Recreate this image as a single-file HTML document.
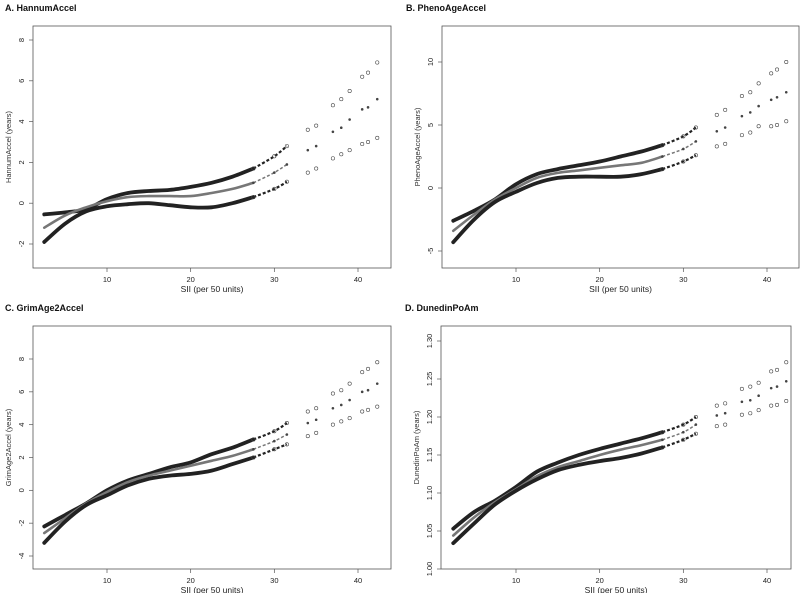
<!DOCTYPE html>
<html><head><meta charset="utf-8"><style>
html,body{margin:0;padding:0;background:#fff;}
svg{display:block;font-family:"Liberation Sans",Arial,sans-serif;}
</style></head><body>
<svg id="fig" width="800" height="593" viewBox="0 0 800 593"></svg>
<script>
const xs = [2.5,5,7.5,10,12.5,15,17.5,20,22.5,25,27.5,30,31.5,34,35,37,38,39,40.5,41.2,42.3];
const xTicks = [10,20,30,40];
const aUpper = [-0.55,-0.45,-0.3,0.2,0.5,0.6,0.65,0.8,1.0,1.3,1.7,2.3,2.8,3.6,3.8,4.8,5.1,5.5,6.2,6.4,6.9];
const aMean  = [-1.2,-0.6,-0.2,0.1,0.3,0.35,0.35,0.35,0.5,0.7,1.0,1.5,1.9,2.6,2.8,3.5,3.7,4.1,4.6,4.7,5.1];
const aLower = [-1.9,-1.0,-0.4,-0.15,-0.05,0.0,-0.1,-0.2,-0.2,0,0.3,0.7,1.05,1.5,1.7,2.2,2.4,2.6,2.9,3.0,3.2];
const aTicks = [-2,0,2,4,6,8];
const bUpper = [-2.6,-1.8,-0.9,0.3,1.1,1.5,1.8,2.1,2.5,2.9,3.4,4.1,4.8,5.8,6.2,7.3,7.6,8.3,9.1,9.4,10.0];
const bMean  = [-3.4,-2.1,-0.9,0,0.8,1.2,1.4,1.6,1.8,2.0,2.5,3.1,3.7,4.5,4.8,5.7,6.0,6.5,7.0,7.2,7.6];
const bLower = [-4.3,-2.5,-1.1,-0.3,0.4,0.8,0.9,0.9,0.9,1.1,1.5,2.1,2.6,3.3,3.5,4.2,4.4,4.9,4.9,5.0,5.3];
const bTicks = [-5,0,5,10];
const cUpper = [-2.2,-1.5,-0.8,0,0.6,1.0,1.4,1.7,2.2,2.6,3.1,3.6,4.1,4.8,5.0,5.9,6.1,6.5,7.2,7.4,7.8];
const cMean  = [-2.6,-1.7,-0.8,-0.1,0.5,0.9,1.2,1.5,1.8,2.1,2.5,3.0,3.4,4.1,4.3,5.0,5.2,5.5,6.0,6.1,6.5];
const cLower = [-3.2,-1.9,-0.9,-0.3,0.3,0.7,0.9,1.0,1.2,1.6,2.0,2.5,2.8,3.3,3.5,4.0,4.2,4.4,4.8,4.9,5.1];
const cTicks = [-4,-2,0,2,4,6,8];
const dUpper = [1.053,1.075,1.090,1.108,1.128,1.140,1.150,1.158,1.165,1.172,1.180,1.190,1.200,1.215,1.218,1.237,1.240,1.245,1.260,1.262,1.272];
const dMean  = [1.044,1.068,1.088,1.105,1.122,1.134,1.142,1.150,1.157,1.163,1.170,1.180,1.190,1.202,1.205,1.220,1.222,1.228,1.238,1.240,1.247];
const dLower = [1.034,1.060,1.085,1.103,1.118,1.130,1.137,1.142,1.146,1.152,1.160,1.170,1.178,1.188,1.190,1.203,1.205,1.209,1.215,1.216,1.221];
const dTicks = [1.00,1.05,1.10,1.15,1.20,1.25,1.30];
const dLabels = ["1.00","1.05","1.10","1.15","1.20","1.25","1.30"];

const NS="http://www.w3.org/2000/svg";
const svg=document.getElementById('fig');
function mk(tag,attrs,parent){const e=document.createElementNS(NS,tag);for(const k in attrs)e.setAttribute(k,attrs[k]);(parent||svg).appendChild(e);return e;}

const panels=[
 {key:'a',title:'A. HannumAccel',ylab:'HannumAccel (years)',box:[33,26,391,268],x10:107,x40:358,yv1:8,yp1:40,yv2:-2,yp2:244,ticks:aTicks,labels:null,series:[aUpper,aMean,aLower]},
 {key:'b',title:'B. PhenoAgeAccel',ylab:'PhenoAgeAccel (years)',box:[442,26,799,268],x10:516,x40:767,yv1:10,yp1:62,yv2:-5,yp2:251,ticks:bTicks,labels:null,series:[bUpper,bMean,bLower]},
 {key:'c',title:'C. GrimAge2Accel',ylab:'GrimAge2Accel (years)',box:[33,326,391,569],x10:107,x40:358,yv1:8,yp1:359,yv2:-4,yp2:556,ticks:cTicks,labels:null,series:[cUpper,cMean,cLower]},
 {key:'d',title:'D. DunedinPoAm',ylab:'DunedinPoAm (years)',box:[441,326,791,569],x10:516,x40:767,yv1:1.30,yp1:341,yv2:1.00,yp2:569,ticks:dTicks,labels:dLabels,series:[dUpper,dMean,dLower]}
];

function smooth(pts){
  let d='M'+pts[0][0]+','+pts[0][1];
  for(let i=0;i<pts.length-1;i++){
    const p0=pts[Math.max(0,i-1)],p1=pts[i],p2=pts[i+1],p3=pts[Math.min(pts.length-1,i+2)];
    const c1=[p1[0]+(p2[0]-p0[0])/6,p1[1]+(p2[1]-p0[1])/6];
    const c2=[p2[0]-(p3[0]-p1[0])/6,p2[1]-(p3[1]-p1[1])/6];
    d+=' C'+c1[0].toFixed(1)+','+c1[1].toFixed(1)+' '+c2[0].toFixed(1)+','+c2[1].toFixed(1)+' '+p2[0].toFixed(1)+','+p2[1].toFixed(1);
  }
  return d;
}

panels.forEach(p=>{
  const g=mk('g',{});
  
  
  const sx=v=>p.x10+(v-10)*(p.x40-p.x10)/30;
  const sy=v=>p.yp1+(v-p.yv1)*(p.yp2-p.yp1)/(p.yv2-p.yv1);
  const [l,t,r,b]=p.box;
  const title=mk('text',{x:l-28,y:p.box[1]-15,'font-size':'9','font-weight':'bold',fill:'#111'},g);
  if(p.key==='b'||p.key==='d'){title.setAttribute('x',l-36);}
  title.textContent=p.title;
  
  
  const rect=mk('rect',{x:l,y:t,width:r-l,height:b-t,fill:'none',stroke:'#555','stroke-width':'0.8'},g);
  
  
  xTicks.forEach(v=>{
    const x=sx(v);
    const tk=mk('line',{x1:x,x2:x,y1:b,y2:b+4,stroke:'#555','stroke-width':'0.7'},g);
    
    
    const tl=mk('text',{x:x,y:b+14,'font-size':'7.5','text-anchor':'middle',fill:'#222'},g);
    tl.textContent=String(v);
    
    
  });
  p.ticks.forEach((v,i)=>{
    const y=sy(v);
    const tk=mk('line',{x1:l-4,x2:l,y1:y,y2:y,stroke:'#555','stroke-width':'0.7'},g);
    
    
    const tl=mk('text',{x:0,y:0,'font-size':'7.5','text-anchor':'middle',fill:'#222',transform:'translate('+(l-9)+','+y+') rotate(-90)'},g);
    tl.textContent=p.labels?p.labels[i]:String(v);
    
    
  });
  const xl=mk('text',{x:(l+r)/2,y:b+24,'font-size':'8.5','text-anchor':'middle',fill:'#222'},g);
  xl.textContent='SII (per 50 units)';
  
  
  const yl=mk('text',{x:0,y:0,'font-size':'7.5','text-anchor':'middle',fill:'#333',transform:'translate('+(l-22)+','+((t+b)/2)+') rotate(-90)'},g);
  yl.textContent=p.ylab;
  
  
  const names=['upper-ci','estimate','lower-ci'];
  p.series.forEach((s,si)=>{
    const col=si===1?'#777':'#222';
    const w=si===1?2.6:3.8;
    const cont=[];
    for(let i=0;i<xs.length;i++){ if(xs[i]<=27.5) cont.push([sx(xs[i]),sy(s[i])]); }
    const path=mk('path',{d:smooth(cont),fill:'none',stroke:col,'stroke-width':w,'stroke-linecap':'round'},g);
    
    
    const tail=[];
    for(let i=0;i<xs.length;i++){ if(xs[i]>=27.5 && xs[i]<=31.5) tail.push([sx(xs[i]),sy(s[i])]); }
    const tp=mk('path',{d:smooth(tail),fill:'none',stroke:col,'stroke-width':si===1?1.5:2.2,'stroke-dasharray':'3 2'},g);
    
    
    for(let i=0;i<xs.length;i++){
      if(xs[i]<27.5) continue;
      const c=mk('circle',{cx:sx(xs[i]),cy:sy(s[i]),r:si===1?1:1.7,fill:si===1?'#444':'none',stroke:'#444','stroke-width':'0.6'},g);
      
      
    }
  });
});
</script>
</body></html>
